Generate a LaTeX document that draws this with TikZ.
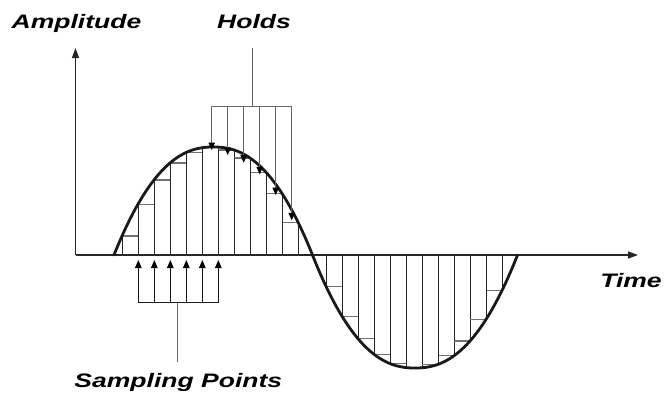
\documentclass[tikz,border=0pt]{standalone}
\usepackage{fontspec}
\setmainfont{Liberation Sans}
\usetikzlibrary{arrows.meta}
\begin{document}
\begin{tikzpicture}[x=1pt,y=-1pt,
  lab/.style={font=\fontsize{19.5}{22}\selectfont\bfseries\itshape, xscale=1.36, inner sep=0pt, anchor=base},
  axisline/.style={line width=1.3pt, black!85, -{Triangle[length=10pt,width=7pt]}},
  wave/.style={line width=2.8pt, black!90, line cap=round, line join=round},
  stepline/.style={line width=1pt, black!85},
  holdtop/.style={line width=1.1pt, black!55},
  brack/.style={line width=1pt, black!60},
  sarrow/.style={line width=1pt, black!90, -{Triangle[length=8pt,width=6.5pt,black]}},
  harrow/.style={line width=1pt, black!60, -{Triangle[length=7.5pt,width=6.5pt,black]}}
]
\useasboundingbox (0,0) rectangle (666,402);

% labels
\node[lab] (amp) at (76.5,28) {Amplitude};
\node[lab] (holds) at (254,28) {Holds};
\node[lab] (time) at (631,287) {Time};
\node[lab] (samp) at (178.3,387.3) {Sampling Points};

% steps, positive half
\foreach \k in {0,...,10} {
  \pgfmathsetmacro\a{122+16*\k}
  \pgfmathsetmacro\hA{108*(1-(abs((\a-213.25)/99.25)+0.00001)^2.3)}
  \pgfmathsetmacro\hB{108*(1-(abs((\a+16-213.25)/99.25)+0.00001)^2.3)}
  \pgfmathsetmacro\h{min(\hA,\hB)}
  \draw[holdtop] (\a,{255-\h}) -- ({\a+16},{255-\h});
  \draw[stepline] (\a,255) -- (\a,{255-\h});
  \draw[stepline] ({\a+16},255) -- ({\a+16},{255-\h});
}
% steps, negative half
\foreach \k in {0,...,10} {
  \pgfmathsetmacro\a{326+16*\k}
  \pgfmathsetmacro\hA{113*(1-(abs((\a-415)/102.5)+0.00001)^2.3)}
  \pgfmathsetmacro\hB{113*(1-(abs((\a+16-415)/102.5)+0.00001)^2.3)}
  \pgfmathsetmacro\h{min(\hA,\hB)}
  \draw[holdtop] (\a,{255+\h}) -- ({\a+16},{255+\h});
  \draw[stepline] (\a,255) -- (\a,{255+\h});
  \draw[stepline] ({\a+16},255) -- ({\a+16},{255+\h});
}

% axes
\coordinate (o) at (75.5,255);
\coordinate (xend) at (638,255);
\coordinate (yend) at (75.5,48);
\draw[axisline] (o) -- (xend);
\draw[axisline] (o) -- (yend);

% wave
\draw[wave] plot[domain=114:312.5, samples=120]
   (\x, {255-108*(1-(abs((\x-213.25)/99.25)+0.00001)^2.3)})
  -- plot[domain=312.5:517.5, samples=120]
   (\x, {255+113*(1-(abs((\x-415)/102.5)+0.00001)^2.3)});

% holds bracket
\coordinate (hstem) at (252.7,48);
\coordinate (hjoin) at (252.7,106);
\coordinate (hl) at (211.7,106);
\coordinate (hr) at (291.7,106);
\draw[brack] (hstem) -- (hjoin);
\draw[brack] (hl) -- (hr);
\foreach \i/\ty in {0/150,1/155,2/162.7,3/174.3,4/195,5/220.3} {
  \coordinate (ht\i) at ({211.7+16*\i},\ty);
  \draw[harrow] ({211.7+16*\i},106) -- (ht\i);
}

% sampling bracket
\coordinate (sjoin) at (177.3,302.7);
\coordinate (send) at (177.3,361.7);
\coordinate (sl) at (138.3,302.7);
\coordinate (sr) at (218.3,302.7);
\draw[brack] (sjoin) -- (send);
\draw[sarrow, -] (sl) -- (sr);
\foreach \i in {0,...,5} {
  \coordinate (st\i) at ({138.3+16*\i},260);
  \draw[sarrow] ({138.3+16*\i},302.7) -- (st\i);
}
\end{tikzpicture}
\end{document}
